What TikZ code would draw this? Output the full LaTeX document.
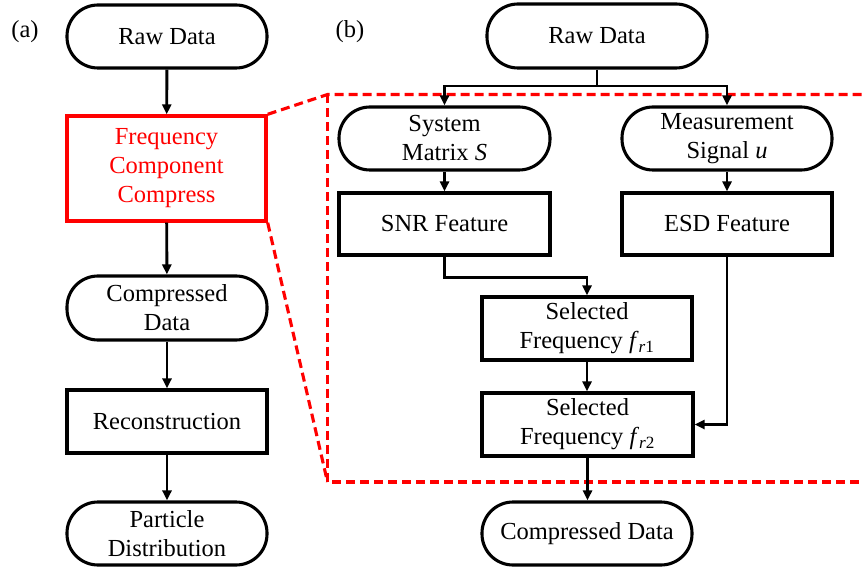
\documentclass[tikz,border=0pt]{standalone}
\usepackage{fontspec}
\setmainfont{Liberation Serif}
\usetikzlibrary{arrows.meta}

\tikzset{
  base/.style={draw=black, line width=3.1pt, fill=white, align=center,
    inner sep=0pt, font=\fontsize{24.5}{29}\selectfont},
  pill/.style={base, rounded corners=31pt},
  procbox/.style={base},
  hilite/.style={base, draw=red, text=red, line width=3.4pt},
  flow/.style={draw=black, line width=2.9pt,
    -{Triangle[length=10pt,width=9pt]}},
  plain/.style={draw=black, line width=2.9pt},
  zoomline/.style={draw=red, line width=3.1pt, dash pattern=on 9pt off 5pt},
  tag/.style={font=\fontsize{24.5}{29}\selectfont, inner sep=0pt}
}

\begin{document}
\begin{tikzpicture}[x=1pt, y=-1pt]
\useasboundingbox (0,0) rectangle (862,569);

% ---- panel labels
\node[tag] (la) at (25,32) {(a)};
\node[tag] (lb) at (350,32) {(b)};

% ---- panel (a): overall pipeline
\node[pill,    minimum width=200pt, minimum height=63pt]  (a1) at (167,36.5) {Raw Data};
\node[hilite,  minimum width=199pt, minimum height=105pt] (a2) at (166.5,168.5) {Frequency\\Component\\Compress};
\node[pill,    minimum width=200pt, minimum height=64pt]  (a3) at (167,308) {Compressed\\Data};
\node[procbox, minimum width=200pt, minimum height=63pt]  (a4) at (167,421.5) {Reconstruction};
\node[pill,    minimum width=200pt, minimum height=63pt]  (a5) at (167,533.5) {Particle\\Distribution};

% ---- zoom outline linking the compression step to panel (b)
\coordinate (zt) at (327.5,94.5);
\coordinate (zb) at (327.5,482);
\coordinate (zte) at (862,94.5);
\coordinate (zbe) at (862,482);
\draw[zoomline] (a2.north east) -- (zt) -- (zte);
\draw[zoomline] (zt) -- (zb) -- (zbe);
\draw[zoomline] (a2.south east) -- (zb);

% ---- panel (b): compression details
\node[pill,    minimum width=220pt, minimum height=64pt] (b1) at (597,36) {Raw Data};
\node[pill,    minimum width=211pt, minimum height=63pt] (b2) at (444.5,138.5) {System\\Matrix \textit{S}};
\node[pill,    minimum width=210pt, minimum height=63pt] (b3) at (727,138.5) {Measurement\\Signal \textit{u}};
\node[procbox, minimum width=211pt, minimum height=62pt] (b4) at (444.5,224) {SNR Feature};
\node[procbox, minimum width=210pt, minimum height=62pt] (b5) at (727,224) {ESD Feature};
\node[procbox, minimum width=210pt, minimum height=63pt] (b6) at (587,328.5) {Selected\\Frequency \textit{f}\textsubscript{\textit{r}1}};
\node[procbox, minimum width=211pt, minimum height=63pt] (b7) at (587.5,424.5) {Selected\\Frequency \textit{f}\textsubscript{\textit{r}2}};
\node[pill,    minimum width=210pt, minimum height=63pt] (b8) at (587,533.5) {Compressed Data};

% ---- connectors, panel (a)
\draw[flow] (a1) -- (a2);
\draw[flow] (a2) -- (a3);
\draw[flow] (a3) -- (a4);
\draw[flow] (a4) -- (a5);

% ---- connectors, panel (b)
\coordinate (split) at (597,86);
\draw[plain] (b1.south) -- (split);
\draw[flow] (split) -| (b2.north);
\draw[flow] (split) -| (b3.north);
\draw[flow] (b2) -- (b4);
\draw[flow] (b3) -- (b5);
\draw[flow] (b4.south) -- ++(0,21) -| (b6.north);
\draw[flow] (b5.south) |- (b7.east);
\draw[flow] (b6.south) -- (b6.south |- b7.north);
\draw[flow] (b7.south) -- (b7.south |- b8.north);
\end{tikzpicture}
\end{document}
